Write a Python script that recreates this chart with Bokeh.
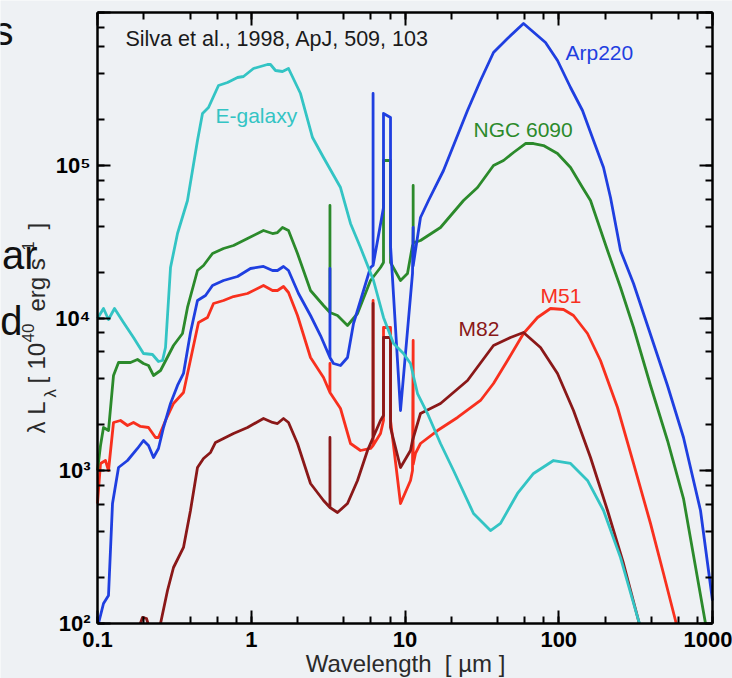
import math
from bokeh.plotting import figure
from bokeh.models import Range1d, LogAxis, Label, CustomJSTickFormatter
from bokeh.embed import file_html
from bokeh.resources import INLINE

FONT = "Liberation Sans"
BG = "#eef1f4"
NAN = float("nan")

# ---- axis limits and tick labels --------------------------------------
x_lim = (0.1, 1000)
y_lim = (1e2, 1e6)
x_ticks = [0.1, 1, 10, 100, 1000]
x_tick_labels = ["0.1", "1", "10", "100", "1000"]
y_ticks = [1e2, 1e3, 1e4, 1e5, 1e6]
y_tick_labels = ["10\u00b2", "10\u00b3", "10\u2074", "10\u2075", "10\u2076"]

# ---- model SEDs: wavelength [um] and lambda*L_lambda [1e40 erg/s] -------
egal_wl = [0.1, 0.1094, 0.1179, 0.129, 0.1476, 0.1714, 0.1991, 0.2278, 0.2492, 0.2648,
           0.2769, 0.2985, 0.3314, 0.3849, 0.447, 0.4819, 0.5272, 0.6124, 0.7007, 0.8141,
           0.8904, 1.034, 1.275, 1.334, 1.438, 1.597, 1.747, 2.091, 2.503, 2.951,
           3.806, 4.421, 5.135, 6.24, 7.247, 8.42, 9.777, 10.86, 12.06, 14.01,
           17.02, 20.68, 27.9, 35.98, 41.8, 53.91, 68.53, 92.45, 119.3, 153.8,
           195.5, 252.2, 330.1, 335.0]
egal_L = [9925, 11540, 9776, 11540, 9344, 7454, 5855, 5768, 5191, 5269,
          6410, 21410, 35740, 58770, 145200, 218200, 238900, 332700, 348000, 375400,
          381100, 430000, 456500, 456500, 417200, 410900, 430000, 294900, 151900, 112400,
          71500, 41560, 28940, 17600, 10080, 6808, 5855, 5036, 3203, 2370,
          1508, 1004, 525, 406, 452, 710, 960, 1167, 1116, 864,
          549, 270, 105, 100]

ngc_wl = [0.1, 0.1046, 0.1094, 0.1179, 0.1271, 0.137, 0.1639, 0.182, 0.1991, 0.2146,
          0.2313, 0.257, 0.3121, 0.3571, 0.3849, 0.447, 0.4892, 0.5598, 0.66, 0.7668,
          0.9454, 1.201, 1.375, 1.481, 1.597, 1.747, 1.999, 2.429, 2.951, 3.25,
          3.25, 3.25, 3.639, 4.227, 4.911, 5.965, 6.929, 7.247, 7.247, 8.05,
          8.05, 9.349, 10.38, 11.19, 11.3, 11.3, 11.3, 12.61, 17.02, 24.02,
          29.62, 37.63, 43.72, 50.78, 60.77, 68.53, 79.58, 98.14, 119.3, 142.7,
          160.9, 207.6, 252.2, 306.4, 395.2, 509.6, 647.6, 900.6]
ngc_L = [1004, 1463, 1919, 1834, 4204, 5112, 5112, 5349, 5036, 4887,
         4204, 4532, 6607, 7916, 11718, 20465, 22073, 26437, 28510, 29828,
         33148, 37391, 35736, 36280, 39123, 37391, 26437, 15136, 12075, 10865,
         54511, 10865, 10384, 8932, 10703, 17604, 21414, 23090, 107400, 107400,
         23090, 17604, 19565, 29828, 29828, 73699, 31000, 32162, 39123, 58774,
         71504, 99622, 107427, 121196, 138776, 138776, 134653, 119371, 96665, 71504,
         58774, 27660, 15838, 8667, 3615, 1578, 658, 100]

arp_wl = [0.1015, 0.1094, 0.1179, 0.1252, 0.137, 0.1567, 0.182, 0.1991, 0.2146, 0.2313,
          0.2492, 0.2687, 0.2985, 0.3314, 0.3625, 0.4025, 0.447, 0.5041, 0.5598, 0.66,
          0.8141, 0.9888, 1.201, 1.375, 1.481, 1.621, 1.747, 2.029, 2.429, 2.821,
          3.25, 3.25, 3.25, 3.427, 3.806, 4.227, 4.624, 5.135, 5.965, 6.2,
          6.2, 6.2, 7.247, 7.247, 8.05, 8.05, 9.349, 11.19, 11.3, 11.3,
          12.61, 14.22, 17.8, 25.5, 30.98, 37.63, 46.42, 58.98, 82.0, 98.14,
          119.3, 142.7, 168.3, 195.5, 217.1, 252.2, 306.4, 413.3, 509.6, 647.6,
          835.6, 1000]
arp_L = [100, 135.2, 152.5, 610.4, 1050, 1167, 1399, 1578, 1463, 1221,
         1399, 1919, 2756, 3615, 4332, 8037, 13019, 14037, 16325, 17604,
         18700, 21091, 21741, 20465, 20465, 21741, 20465, 14467, 10384, 7681,
         5512, 21091, 5512, 5036, 4887, 5512, 9205, 13019, 21414, 22073,
         294900, 22073, 52891, 218200, 205400, 29828, 2480, 19565, 39123, 22000,
         45499, 58774, 92392, 228300, 358700, 547300, 675700, 847300, 636300, 485100,
         322800, 228300, 145211, 96665, 61491, 27660, 16824, 6808, 3615, 1651,
         549, 141.5]

m51_wl = [0.1, 0.1046, 0.1127, 0.1179, 0.1271, 0.1411, 0.1567, 0.1714, 0.1904, 0.2146,
          0.2383, 0.2492, 0.2769, 0.3121, 0.3625, 0.4147, 0.4538, 0.5193, 0.5682, 0.66,
          0.7668, 0.9454, 1.201, 1.375, 1.481, 1.621, 1.747, 1.999, 2.429, 2.951,
          3.25, 3.25, 3.25, 3.806, 4.421, 5.135, 5.965, 6.2, 6.2, 6.2,
          6.929, 7.247, 7.247, 8.05, 8.05, 9.349, 10.86, 11.19, 11.3, 11.3,
          11.7, 12.61, 16.27, 21.96, 30.98, 37.63, 46.42, 58.98, 72.75, 88.39,
          107.4, 124.7, 153.8, 186.8, 241.1, 306.4, 395.2, 480.0, 574.6, 580.0]
m51_L = [610.4, 1116, 1167, 1004, 2070, 2133, 1978, 2070, 1949, 1919,
         1651, 1651, 2133, 2756, 3253, 6127, 9344, 10075, 12445, 13019,
         13826, 14467, 16325, 15136, 15136, 16080, 14688, 10384, 5512, 4078,
         3253, 5036, 3253, 2556, 1508, 1357, 1399, 1463, 13019, 1463,
         1754, 2133, 8667, 8667, 2133, 610.4, 863.6, 1004, 7123, 1100,
         1297, 1508, 1834, 2232, 2884, 3726, 5269, 7916, 10075, 11542,
         11368, 10384, 7916, 5269, 2595, 1116, 451.5, 212.5, 104.6, 100]

# M82: a small UV bump grazing the lower limit, then the main curve
m82_wl = [0.190, 0.1962, 0.2083, 0.213, NAN, 0.257, 0.2853, 0.3121, 0.3625, 0.4025,
          0.447, 0.4892, 0.5433, 0.5855, 0.66, 0.7668, 0.9454, 1.201, 1.375, 1.481,
          1.621, 1.747, 1.999, 2.429, 2.951, 3.25, 3.25, 3.25, 3.639, 4.227,
          4.911, 5.703, 6.2, 6.2, 6.2, 6.929, 7.247, 7.247, 8.05, 8.05,
          9.349, 10.86, 11.19, 12.61, 17.02, 25.5, 37.63, 48.55, 58.98, 76.09,
          98.14, 124.7, 160.9, 207.6, 263.7, 330.1, 333.0]
m82_L = [100, 109.5, 107.8, 100, NAN, 100, 164.4, 232.6, 314.5, 549.2,
         1050, 1203, 1317, 1531, 1626, 1754, 1919, 2198, 2070, 2038,
         2198, 2070, 1508, 825, 638.6, 574.6, 1651, 574.6, 532.9, 610.4,
         863.6, 1357, 1651, 12445, 1651, 2133, 2300, 7454, 7454, 1919,
         1050, 1357, 1578, 2370, 2756, 3897, 6607, 7454, 8037, 6410,
         4332, 2480, 1221, 549.2, 247.1, 104.6, 100]

C_EGAL = "#33c4c4"
C_NGC = "#2b8a2b"
C_ARP = "#1f3fe0"
C_M51 = "#f8301e"
C_M82 = "#8a1818"

# The data frame spans the whole canvas; the boxed plot region (x_lim, y_lim)
# sits at pixels x 97..712, y 12..623, and its four axes are pinned to it.
W, H = 732, 678
BOX_L, BOX_R, BOX_T, BOX_B = 97, 712, 12, 623
ppx = (BOX_R - BOX_L) / math.log10(x_lim[1] / x_lim[0])
ppy = (BOX_B - BOX_T) / math.log10(y_lim[1] / y_lim[0])
x_range = Range1d(x_lim[0] * 10 ** (-BOX_L / ppx), x_lim[1] * 10 ** ((W - BOX_R) / ppx))
y_range = Range1d(y_lim[0] * 10 ** (-(H - BOX_B) / ppy), y_lim[1] * 10 ** (BOX_T / ppy))

p = figure(width=W, height=H, x_axis_type="log", y_axis_type="log",
           x_axis_location=None, y_axis_location=None, title=None,
           x_range=x_range, y_range=y_range,
           output_backend="svg", toolbar_location=None,
           min_border=0, background_fill_color=BG, border_fill_color=BG)
p.grid.visible = False
p.outline_line_color = None


def label_formatter(values, names):
    return CustomJSTickFormatter(args=dict(tv=values, tl=names), code="""
        let best = 0, err = 1e9;
        for (let i = 0; i < tv.length; i++) {
            const d = Math.abs(Math.log10(tv[i]) - Math.log10(tick));
            if (d < err) { err = d; best = i; }
        }
        return tl[best];
    """)


def make_axis(side):
    horizontal = side in ("below", "above")
    ax = LogAxis(bounds=x_lim if horizontal else y_lim)
    ax.fixed_location = {"below": y_lim[0], "above": y_lim[1],
                         "left": x_lim[0], "right": x_lim[1]}[side]
    ax.axis_line_width = 2.5
    ax.axis_line_color = "black"
    ax.major_tick_in = 13
    ax.major_tick_out = 0
    ax.minor_tick_in = 7
    ax.minor_tick_out = 0
    ax.major_tick_line_width = 2
    ax.minor_tick_line_width = 2
    ax.major_tick_line_color = "black"
    ax.minor_tick_line_color = "black"
    ax.major_label_text_font = FONT
    ax.major_label_text_font_style = "bold"
    ax.major_label_text_font_size = "22px"
    ax.major_label_text_color = "black"
    if side == "below":
        ax.formatter = label_formatter(x_ticks, x_tick_labels)
        ax.major_label_standoff = 8
    elif side == "left":
        ax.formatter = label_formatter(y_ticks, y_tick_labels)
        ax.major_label_standoff = 7
        ax.major_label_overrides = {y_lim[1]: " "}
    else:
        ax.major_label_text_alpha = 0
    p.add_layout(ax, side)
    return ax


for side in ("below", "left", "above", "right"):
    make_axis(side)

# ---- curves ------------------------------------------------------------
for wl, L, col in [(m51_wl, m51_L, C_M51), (m82_wl, m82_L, C_M82),
                   (ngc_wl, ngc_L, C_NGC), (arp_wl, arp_L, C_ARP),
                   (egal_wl, egal_L, C_EGAL)]:
    p.line(wl, L, line_color=col, line_width=2.8, line_join="round")


# ---- in-plot annotations (data coordinates) -------------------------------
def tag(x, y, text, color, size="21px"):
    p.add_layout(Label(x=x, y=y, text=text, text_color=color, text_font=FONT,
                       text_font_size=size, text_baseline="middle", text_align="left"))


tag(0.152, 675700, "Silva et al., 1998, ApJ, 509, 103", "#1a1a1a", "21.5px")
tag(0.5855, 211700, "E-galaxy", C_EGAL)
tag(110.6, 547300, "Arp220", C_ARP)
tag(27.9, 171400, "NGC 6090", C_NGC)
tag(76.09, 14037, "M51", C_M51)
tag(22.29, 8540, "M82", C_M82)


# ---- text around the box: (X, Y) is the glyph baseline point in pixels ----
# from the top-left corner; the anchor sits ~0.33 em off the drawn baseline.
def scr(X, Y, text, size, color="#2a2a2a", upright=True, align="left"):
    shift = 0.33 * size
    if upright:
        ax_, ay_, ang = X, Y - shift, 0.0
    else:
        ax_, ay_, ang = X - shift, Y, math.pi / 2
    p.add_layout(Label(x=ax_, y=H - ay_, x_units="screen", y_units="screen",
                       text=text, text_font=FONT, text_font_size=f"{size}px",
                       text_color=color, angle=ang, text_align=align,
                       text_baseline="alphabetic"))


scr(405, 671, "Wavelength \u00a0[ \u00b5m ]", 24, align="center")

# y-axis title, written upward: lambda L_lambda [10^40 erg s^-1]
BASE, SUB, SUP = 44, 56, 33
scr(BASE, 433, "\u03bb L", 24, upright=False)
scr(SUB, 397, "\u03bb", 17, upright=False)
scr(BASE, 383, "[", 24, upright=False)
scr(BASE, 369, "10", 24, upright=False)
scr(SUP, 342, "40", 17, upright=False)
scr(BASE, 311, "erg s", 24, upright=False)
scr(SUP, 256, "-1", 17, upright=False)
scr(BASE, 229, "]", 24, upright=False)

# fragments of neighbouring slide text
scr(13, 44, "s", 40, color="#111111", align="right")
scr(37, 268, "ar", 40, color="#111111", align="right")
scr(22, 334, "d", 40, color="#111111", align="right")

open("out.html", "w").write(file_html(p, INLINE))
